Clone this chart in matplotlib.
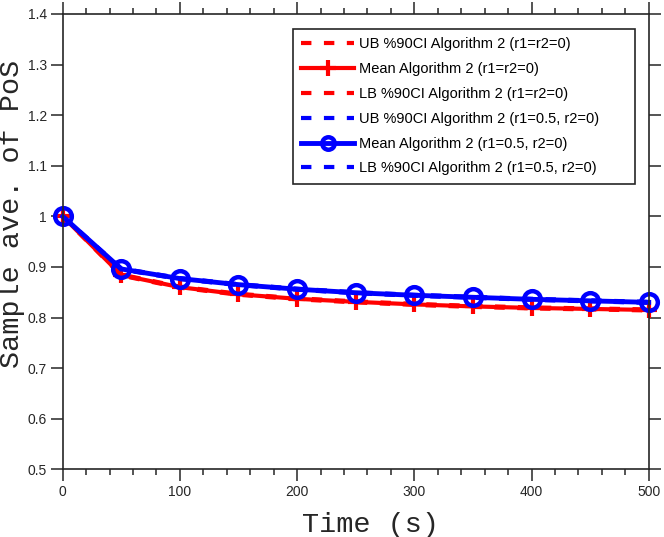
import matplotlib
matplotlib.use('Agg')
import matplotlib.pyplot as plt
from matplotlib.ticker import MultipleLocator

time_s = [0, 50, 100, 150, 200, 250, 300, 350, 400, 450, 500]
red_mean = [1.000, 0.884, 0.860, 0.846, 0.837, 0.831, 0.826, 0.822, 0.819, 0.817, 0.815]
red_ub = [1.000, 0.885, 0.861, 0.847, 0.838, 0.832, 0.827, 0.823, 0.820, 0.818, 0.816]
red_lb = [1.000, 0.883, 0.859, 0.845, 0.836, 0.830, 0.825, 0.821, 0.818, 0.816, 0.814]
blue_mean = [1.000, 0.896, 0.877, 0.865, 0.856, 0.849, 0.844, 0.840, 0.836, 0.833, 0.830]
blue_ub = [1.000, 0.897, 0.878, 0.866, 0.857, 0.850, 0.845, 0.841, 0.837, 0.834, 0.831]
blue_lb = [1.000, 0.895, 0.876, 0.864, 0.855, 0.848, 0.843, 0.839, 0.835, 0.832, 0.829]

labels = [
    "UB %90CI Algorithm 2 (r1=r2=0)",
    "Mean Algorithm 2 (r1=r2=0)",
    "LB %90CI Algorithm 2 (r1=r2=0)",
    "UB %90CI Algorithm 2 (r1=0.5, r2=0)",
    "Mean Algorithm 2 (r1=0.5, r2=0)",
    "LB %90CI Algorithm 2 (r1=0.5, r2=0)",
]
x_ticks = [0, 100, 200, 300, 400, 500]
y_ticks = [0.5, 0.6, 0.7, 0.8, 0.9, 1.0, 1.1, 1.2, 1.3, 1.4]
y_ticklabels = ["0.5", "0.6", "0.7", "0.8", "0.9", "1", "1.1", "1.2", "1.3", "1.4"]

AX = '#262626'
RED = '#ff0000'
BLUE = '#0000ff'

fig = plt.figure(figsize=(6.64, 5.37), dpi=100)
ax = fig.add_axes([0.0944, 0.12607, 0.8826, 0.84786])

dash = (2.5, 3.0)
ax.plot(time_s, red_ub, color=RED, lw=3, dashes=dash, label=labels[0], clip_on=False)
ax.plot(time_s, red_mean, color=RED, lw=3, marker='+', ms=12, mew=3, label=labels[1], clip_on=False)
ax.plot(time_s, red_lb, color=RED, lw=3, dashes=dash, label=labels[2], clip_on=False)
ax.plot(time_s, blue_ub, color=BLUE, lw=3, dashes=dash, label=labels[3], clip_on=False)
ax.plot(time_s, blue_mean, color=BLUE, lw=3.5, marker='o', ms=12, mew=3.2, mfc='none', label=labels[4], clip_on=False)
ax.plot(time_s, blue_lb, color=BLUE, lw=3, dashes=dash, label=labels[5], clip_on=False)

ax.set_xlim(0, 500)
ax.set_ylim(0.5, 1.4)
ax.set_xticks(x_ticks)
ax.set_yticks(y_ticks)
ax.set_yticklabels(y_ticklabels)
ax.xaxis.set_minor_locator(MultipleLocator(20))

for s in ax.spines.values():
    s.set_color(AX)
    s.set_linewidth(1.2)

ax.tick_params(which='major', direction='out', length=8.8, width=1.1, color=AX,
               labelcolor=AX, top=True, right=True, labelsize=10, pad=2.5)
ax.tick_params(axis='x', which='minor', direction='out', length=4.6, width=1.1, color=AX,
               top=True, bottom=True)
ax.tick_params(axis='y', which='minor', left=False, right=False)
for lab in ax.get_xticklabels() + ax.get_yticklabels():
    lab.set_fontfamily('Liberation Sans')

ax.set_xlabel("Time (s)", fontfamily='Liberation Mono', fontsize=20.5, color=AX, va='baseline')
ax.xaxis.set_label_coords(0.526, -0.1377)
ax.set_ylabel("Sample ave. of PoS", fontfamily='Liberation Mono', fontsize=20.5, color=AX, va='center')
ax.yaxis.set_label_coords(-0.0865, 0.562)

leg = ax.legend(loc='upper left', bbox_to_anchor=(0.393, 0.5, 0.5836, 0.467), mode='expand',
                borderaxespad=0,
                prop={'family': 'Liberation Sans', 'size': 10.5}, handlelength=3.6,
                handletextpad=0.36, labelspacing=0.74, borderpad=0.58, fancybox=False,
                framealpha=1, edgecolor=AX)
leg.get_frame().set_linewidth(1.2)
hs = leg.legend_handles
hs[1].set_markersize(12)
hs[4].set_markersize(9)

fig.savefig('out.png', dpi=100)
